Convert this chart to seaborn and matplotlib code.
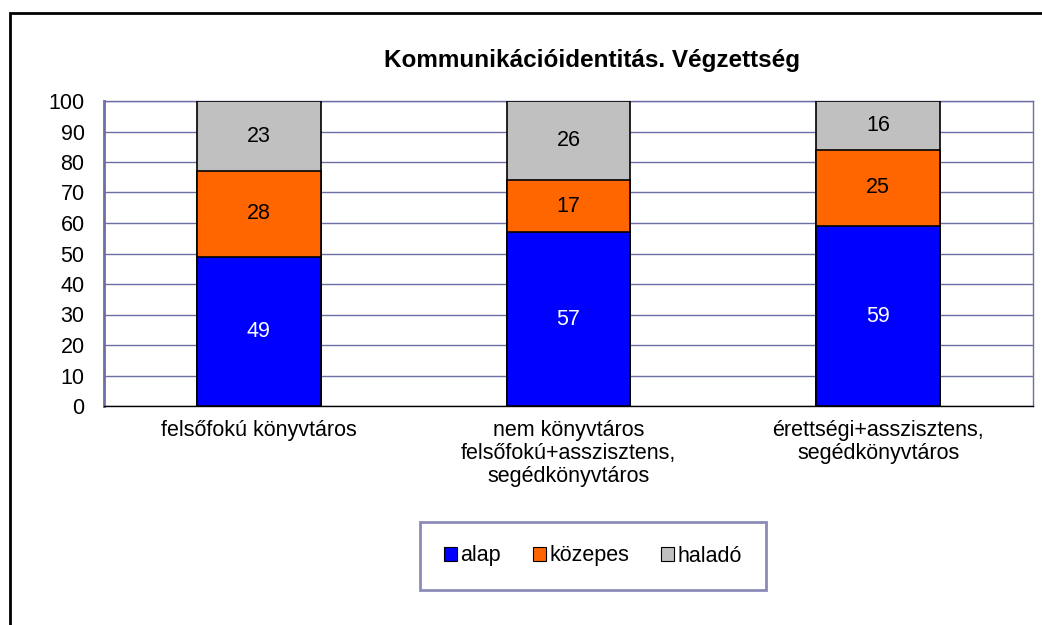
import numpy as np
import pandas as pd
import seaborn as sns
import matplotlib.pyplot as plt
from matplotlib.patches import Patch, Rectangle

sns.set_style('white')
plt.rcParams['font.family'] = ['Liberation Sans', 'DejaVu Sans']
plt.rcParams['text.color'] = 'black'
plt.rcParams['xtick.labelcolor'] = 'black'
plt.rcParams['ytick.labelcolor'] = 'black'

# data
categories = ['felsőfokú könyvtáros',
              'nem könyvtáros\nfelsőfokú+asszisztens,\nsegédkönyvtáros',
              'érettségi+asszisztens,\nsegédkönyvtáros']
series_names = ['alap', 'közepes', 'haladó']
alap = [49, 57, 59]
kozepes = [28, 17, 25]
halado = [23, 26, 16]
colors = ['#0000FF', '#FF6600', '#C0C0C0']
label_colors = ['white', 'black', 'black']
title = 'Kommunikációidentitás. Végzettség'
y_ticks = list(range(0, 101, 10))

grid_col = '#6E6EA6'
fs = 15.5

df = pd.DataFrame({'cat': categories, 'alap': alap, 'közepes': kozepes, 'haladó': halado})
stack = df[series_names].cumsum(axis=1)

fig = plt.figure(figsize=(10.42, 6.25), dpi=100)
ax = fig.add_axes([104 / 1042, 1 - 406 / 625, (1033 - 104) / 1042, (406 - 101) / 625])

# draw from the top of the stack downwards so each layer covers the one below
for name, col in zip(series_names[::-1], colors[::-1]):
    sns.barplot(x=df['cat'], y=stack[name], color=col, width=0.4, saturation=1,
                edgecolor='black', linewidth=1.2, ax=ax, zorder=3)

# segment labels
for name, tc in zip(series_names, label_colors):
    for i in range(len(categories)):
        val = df[name][i]
        mid = stack[name][i] - val / 2
        ax.text(i, mid, str(val), ha='center', va='center', fontsize=fs,
                color=tc, zorder=5)

ax.set_ylim(0, 100)
ax.set_xlim(-0.5, 2.5)
ax.set_yticks(y_ticks)
ax.yaxis.grid(True, color=grid_col, linewidth=1)
ax.set_axisbelow(True)
ax.set_xlabel('')
ax.set_ylabel('')

# category boundaries as ticks, labels on minor ticks
ax.set_xticks([-0.5, 0.5, 1.5, 2.5])
ax.set_xticklabels([])
ax.set_xticks([0, 1, 2], minor=True)
ax.set_xticklabels(categories, minor=True, fontsize=fs, linespacing=1.12, va='top')
ax.tick_params(axis='x', which='major', direction='out', length=6, color='black', width=1)
ax.tick_params(axis='x', which='minor', length=0, pad=10)
ax.tick_params(axis='y', direction='out', length=5, color=grid_col, width=2,
               labelsize=fs, pad=9)

for s in ['left', 'top', 'right']:
    ax.spines[s].set_color(grid_col)
ax.spines['left'].set_linewidth(2)
ax.spines['right'].set_linewidth(1)
ax.spines['top'].set_linewidth(1)
ax.spines['bottom'].set_color('black')
ax.spines['bottom'].set_linewidth(1)

fig.text(592 / 1042, 1 - 61 / 625, title, ha='center', va='center',
         fontsize=17.5, fontweight='bold', color='black')

handles = [Patch(facecolor=c, edgecolor='black', linewidth=0.8) for c in colors]
leg = fig.legend(handles, series_names, loc='center',
                 bbox_to_anchor=(593 / 1042, 1 - 556 / 625), ncol=3, fontsize=fs,
                 frameon=True, fancybox=False, edgecolor=grid_col, borderpad=1.1,
                 handlelength=0.6, handleheight=0.6, handletextpad=0.15,
                 columnspacing=1.5)
leg.get_frame().set_linewidth(2)

# outer chart frame (cut off at right and bottom)
fig.patches.append(Rectangle((9.5 / 1042, -0.1), 1.2, 1 - 12.5 / 625 + 0.1,
                             transform=fig.transFigure, fill=False,
                             edgecolor='black', linewidth=2))

fig.savefig('out.png', dpi=100)
